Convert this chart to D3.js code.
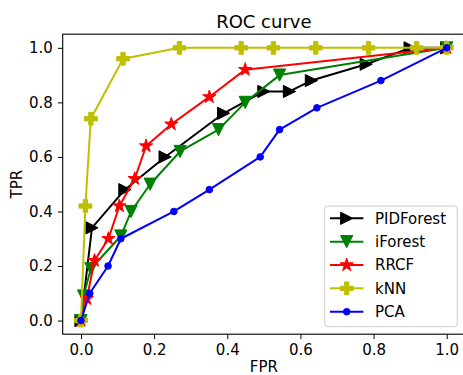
<!DOCTYPE html>
<html>
<head>
<meta charset="utf-8">
<script src="https://cdn.jsdelivr.net/npm/d3@7"></script>
<style>
  body { margin: 0; background: #fff; }
  svg { display: block; font-family: "DejaVu Sans", sans-serif; }
</style>
</head>
<body>
<svg id="chart" width="463" height="375"></svg>
<script>
// ---- data ----
const seriesNames = ["PIDForest", "iForest", "RRCF", "kNN", "PCA"];
const pidFpr = [0, 0.03, 0.12, 0.23, 0.39, 0.50, 0.57, 0.63, 0.78, 0.90, 1.0];
const pidTpr = [0, 0.34, 0.48, 0.60, 0.76, 0.84, 0.84, 0.88, 0.94, 1.0, 1.0];
const ifFpr = [0, 0.007, 0.027, 0.109, 0.137, 0.189, 0.271, 0.376, 0.449, 0.543, 1.0];
const ifTpr = [0, 0.09, 0.19, 0.31, 0.40, 0.50, 0.62, 0.70, 0.80, 0.90, 1.0];
const rrFpr = [0, 0.016, 0.037, 0.075, 0.105, 0.147, 0.178, 0.247, 0.351, 0.449, 1.0];
const rrTpr = [0, 0.08, 0.22, 0.30, 0.42, 0.52, 0.64, 0.72, 0.82, 0.92, 1.0];
const knnFpr = [0, 0.012, 0.027, 0.115, 0.269, 0.438, 0.526, 0.642, 0.786, 0.918, 1.0];
const knnTpr = [0, 0.42, 0.74, 0.96, 1.0, 1.0, 1.0, 1.0, 1.0, 1.0, 1.0];
const pcaFpr = [0, 0.024, 0.074, 0.109, 0.254, 0.351, 0.49, 0.543, 0.645, 0.82, 1.0];
const pcaTpr = [0, 0.10, 0.20, 0.30, 0.40, 0.48, 0.60, 0.70, 0.78, 0.88, 1.0];
const xTicks = [0.0, 0.2, 0.4, 0.6, 0.8, 1.0];
const yTicks = [0.0, 0.2, 0.4, 0.6, 0.8, 1.0];
const titleText = "ROC curve";
const xLabel = "FPR";
const yLabel = "TPR";

// ---- layout ----
const svg = d3.select("#chart");
const pLeft = 62.7, pRight = 465, pTop = 34.2, pBottom = 334.2;
const x = d3.scaleLinear().domain([-0.05, 1.05]).range([pLeft, pRight]);
const y = d3.scaleLinear().domain([-0.05, 1.05]).range([pBottom, pTop]);

const styles = {
  PIDForest: { color: "#000000", marker: "tri_right", size: 6.1 },
  iForest:   { color: "#008000", marker: "tri_down", size: 6.1 },
  RRCF:      { color: "#ff0000", marker: "star", size: 7.0 },
  kNN:       { color: "#bfbf00", marker: "plus", size: 6.4 },
  PCA:       { color: "#0000ff", marker: "circle", size: 3.3 }
};

function markerPath(type, r) {
  if (type === "tri_right") return `M${r},0L${-r},${-r}L${-r},${r}Z`;
  if (type === "tri_down") return `M0,${r}L${-r},${-r}L${r},${-r}Z`;
  if (type === "star") {
    const pts = [];
    const inner = 0.381966;
    for (let i = 0; i < 10; i++) {
      const a = Math.PI / 2 + i * Math.PI / 5;
      const rr = i % 2 === 0 ? r : r * inner;
      pts.push([rr * Math.cos(a), -rr * Math.sin(a)]);
    }
    return "M" + pts.map(p => p.join(",")).join("L") + "Z";
  }
  if (type === "plus") {
    const u = r / 3;
    const v = [[-1,-3],[1,-3],[1,-1],[3,-1],[3,1],[1,1],[1,3],[-1,3],[-1,1],[-3,1],[-3,-1],[-1,-1]];
    return "M" + v.map(p => (p[0]*u) + "," + (p[1]*u)).join("L") + "Z";
  }
  return `M${r},0A${r},${r} 0 1,1 ${-r},0A${r},${r} 0 1,1 ${r},0Z`;
}

const data = [
  { name: "PIDForest", fpr: pidFpr, tpr: pidTpr },
  { name: "iForest", fpr: ifFpr, tpr: ifTpr },
  { name: "RRCF", fpr: rrFpr, tpr: rrTpr },
  { name: "kNN", fpr: knnFpr, tpr: knnTpr },
  { name: "PCA", fpr: pcaFpr, tpr: pcaTpr }
];

svg.append("defs").append("clipPath").attr("id", "clip")
  .append("rect").attr("x", pLeft).attr("y", pTop).attr("width", pRight - pLeft).attr("height", pBottom - pTop);

const plot = svg.append("g").attr("clip-path", "url(#clip)");
const line = d3.line().x(d => x(d[0])).y(d => y(d[1]));

data.forEach(s => {
  const st = styles[s.name];
  const pts = s.fpr.map((f, i) => [f, s.tpr[i]]);
  const g = plot.append("g");
  g.append("path").attr("d", line(pts)).attr("fill", "none")
    .attr("stroke", st.color).attr("stroke-width", 2).attr("stroke-linejoin", "round");
  g.selectAll("path.m").data(pts).enter().append("path").attr("class", "m")
    .attr("d", markerPath(st.marker, st.size))
    .attr("transform", d => `translate(${x(d[0])},${y(d[1])})`)
    .attr("fill", st.color).attr("stroke", st.color).attr("stroke-width", 1);
});

const xAxis = d3.axisBottom(x).tickValues(xTicks).tickFormat(d3.format(".1f")).tickSize(4.9).tickPadding(4.9);
const yAxis = d3.axisLeft(y).tickValues(yTicks).tickFormat(d3.format(".1f")).tickSize(4.9).tickPadding(4.9);
const gx = svg.append("g").attr("transform", `translate(0,${pBottom})`).call(xAxis);
const gy = svg.append("g").attr("transform", `translate(${pLeft},0)`).call(yAxis);
[gx, gy].forEach(g => {
  g.select(".domain").remove();
  g.selectAll("text").attr("font-size", 15).attr("fill", "#000").attr("font-family", "DejaVu Sans");
  g.selectAll("line").attr("stroke", "#000").attr("stroke-width", 1);
});

svg.append("rect").attr("x", pLeft).attr("y", pTop).attr("width", pRight - pLeft).attr("height", pBottom - pTop)
  .attr("fill", "none").attr("stroke", "#000").attr("stroke-width", 1.1);

svg.append("text").attr("x", (pLeft + pRight) / 2).attr("y", 28.3).attr("text-anchor", "middle")
  .attr("font-size", 18).text(titleText);
svg.append("text").attr("x", (pLeft + pRight) / 2).attr("y", 371.5).attr("text-anchor", "middle")
  .attr("font-size", 15).text(xLabel);
svg.append("text").attr("transform", `translate(21.5,${(pTop + pBottom) / 2}) rotate(-90)`)
  .attr("text-anchor", "middle").attr("font-size", 15).text(yLabel);

const lg = svg.append("g");
lg.append("rect").attr("x", 324.7).attr("y", 206).attr("width", 132.6).attr("height", 120.7)
  .attr("rx", 3).attr("fill", "#fff").attr("fill-opacity", 0.8).attr("stroke", "#cccccc").attr("stroke-width", 1);
seriesNames.forEach((n, i) => {
  const st = styles[n];
  const yy = 218.3 + i * 23.35;
  lg.append("line").attr("x1", 330).attr("x2", 363.4).attr("y1", yy).attr("y2", yy)
    .attr("stroke", st.color).attr("stroke-width", 2);
  lg.append("path").attr("d", markerPath(st.marker, st.size))
    .attr("transform", `translate(346.7,${yy})`).attr("fill", st.color).attr("stroke", st.color).attr("stroke-width", 1);
  lg.append("text").attr("x", 375).attr("y", yy).attr("dy", "0.36em").attr("font-size", 15).text(n);
});
</script>
</body>
</html>
